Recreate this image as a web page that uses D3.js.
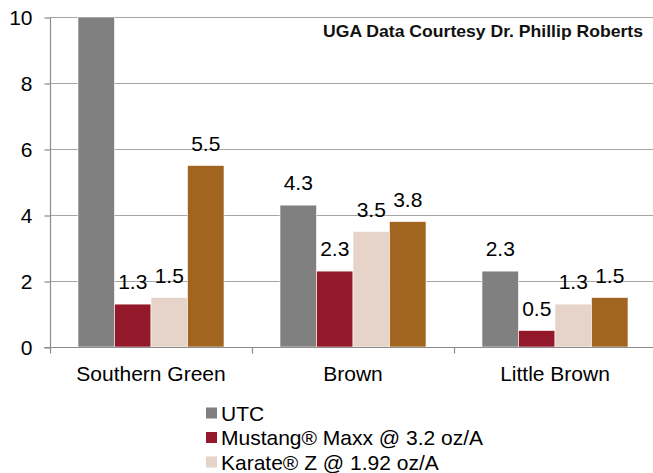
<!DOCTYPE html>
<html>
<head>
<meta charset="utf-8">
<script src="https://cdn.jsdelivr.net/npm/d3@7"></script>
<style>
  html, body { margin: 0; padding: 0; background: #fff; }
  svg { display: block; }
  text { font-family: "Liberation Sans", Arial, sans-serif; fill: #000; }
</style>
</head>
<body>
<svg id="chart" width="653" height="473"></svg>
<script>
// ---- data ----
const categories = ["Southern Green", "Brown", "Little Brown"];
const seriesNames = ["UTC", "Mustang® Maxx @ 3.2 oz/A", "Karate® Z @ 1.92 oz/A", "Series 4"];
const seriesColors = ["#808080", "#931829", "#e6d4ca", "#a2651f"];
const utcValues = [10, 4.3, 2.3];        // Southern Green UTC runs off the top of the axis
const mustangValues = [1.3, 2.3, 0.5];
const karateValues = [1.5, 3.5, 1.3];
const series4Values = [5.5, 3.8, 1.5];
const yTicks = [0, 2, 4, 6, 8, 10];
const legendCount = 3;                   // only three legend rows fit in the picture
const creditText = "UGA Data Courtesy Dr. Phillip Roberts";

const seriesValues = [utcValues, mustangValues, karateValues, series4Values];

const FS = 21;
const svg = d3.select("#chart");
const pLeft = 50, pRight = 656, pTop = 17, pBottom = 347;

const x0 = d3.scaleBand().domain(categories).range([pLeft, pRight]).padding(0);
const step = x0.bandwidth();
const x1 = d3.scaleBand().domain(d3.range(seriesNames.length))
  .range([step * 0.1386, step * 0.8614]).padding(0);
const y = d3.scaleLinear().domain([0, 10]).range([pBottom, pTop]);

// gridlines
svg.append("g").selectAll("line").data(yTicks.filter(d => d > 0)).join("line")
  .attr("x1", pLeft).attr("x2", 653)
  .attr("y1", d => y(d) + 0.5).attr("y2", d => y(d) + 0.5)
  .attr("stroke", "#a6a6a6").attr("stroke-width", 1.2);

// bars
svg.append("clipPath").attr("id", "plotclip").append("rect")
  .attr("x", pLeft).attr("y", pTop).attr("width", pRight - pLeft).attr("height", pBottom - pTop);

const groups = svg.append("g").attr("clip-path", "url(#plotclip)")
  .selectAll("g").data(categories).join("g")
  .attr("transform", d => `translate(${x0(d)},0)`);

groups.selectAll("rect").data((c, ci) => seriesValues.map((vals, si) => ({ si, v: vals[ci] })))
  .join("rect")
  .attr("x", d => x1(d.si))
  .attr("width", x1.bandwidth())
  .attr("y", d => y(d.v))
  .attr("height", d => y(0) - y(d.v))
  .attr("fill", d => seriesColors[d.si])
  .attr("stroke", "#fff").attr("stroke-width", 0.6);

// value labels
const labelG = svg.append("g");
categories.forEach((c, ci) => {
  seriesValues.forEach((vals, si) => {
    const v = vals[ci];
    if (v >= 10) return; // label lies above the plot, not shown
    labelG.append("text")
      .attr("x", x0(c) + x1(si) + x1.bandwidth() / 2)
      .attr("y", y(v) - 15)
      .attr("text-anchor", "middle")
      .attr("font-size", FS)
      .text(d3.format(".1f")(v));
  });
});

// y axis
const yAxis = d3.axisLeft(y).tickValues(yTicks).tickSize(6).tickPadding(12).tickFormat(d3.format("d"));
const yg = svg.append("g").attr("transform", `translate(${pLeft + 0.5},0.5)`).call(yAxis);
yg.select(".domain").attr("stroke", "#8c8c8c").attr("stroke-width", 1.2).attr("d", `M0,${pTop}V${pBottom}`);
yg.selectAll(".tick line").attr("stroke", "#8c8c8c").attr("stroke-width", 1.2);
yg.selectAll(".tick text").attr("font-size", FS).attr("font-family", "Liberation Sans, Arial, sans-serif").attr("fill", "#000");

// x axis
const xg = svg.append("g").attr("transform", `translate(0,${pBottom + 0.5})`);
xg.append("line").attr("x1", pLeft - 6).attr("x2", 653).attr("y1", 0).attr("y2", 0)
  .attr("stroke", "#8c8c8c").attr("stroke-width", 1.2);
xg.selectAll("line.tk").data(categories).join("line").attr("class", "tk")
  .attr("x1", d => x0(d) + 0.5).attr("x2", d => x0(d) + 0.5)
  .attr("y1", 0).attr("y2", 6)
  .attr("stroke", "#8c8c8c").attr("stroke-width", 1.2);
xg.selectAll("text").data(categories).join("text")
  .attr("x", d => x0(d) + step / 2)
  .attr("y", 33)
  .attr("text-anchor", "middle")
  .attr("font-size", FS)
  .text(d => d);

// credit text
svg.append("text")
  .attr("x", 643).attr("y", 37)
  .attr("text-anchor", "end")
  .attr("font-size", 17)
  .attr("font-weight", "bold")
  .attr("textLength", 320).attr("lengthAdjust", "spacingAndGlyphs")
  .style("font-family", "'Liberation Sans Narrow', 'Arial Narrow', 'Liberation Sans', Arial, sans-serif")
  .style("fill", "#111")
  .text(creditText);

// legend
const leg = svg.append("g").selectAll("g").data(seriesNames.slice(0, legendCount)).join("g")
  .attr("transform", (d, i) => `translate(206,${413 + i * 24.5})`);
leg.append("rect").attr("x", 0).attr("y", -5.5).attr("width", 11).attr("height", 11)
  .attr("fill", (d, i) => seriesColors[i]);
leg.append("text").attr("x", 15).attr("y", 7.5).attr("font-size", FS).text(d => d);
</script>
</body>
</html>
